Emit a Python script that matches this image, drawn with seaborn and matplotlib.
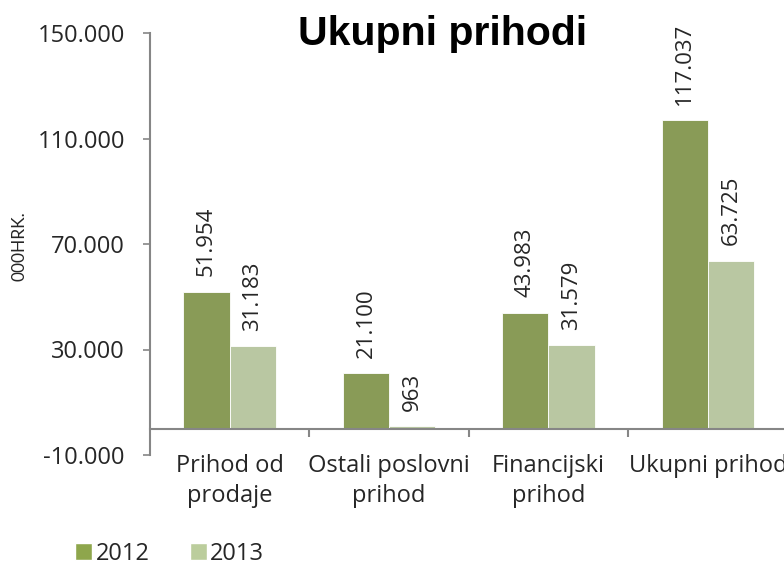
import matplotlib
matplotlib.use('Agg')
import matplotlib.pyplot as plt
import seaborn as sns
import pandas as pd
from matplotlib.patches import Patch
from matplotlib.ticker import FixedLocator

categories = ['Prihod od\nprodaje', 'Ostali poslovni\nprihod', 'Financijski\nprihod', 'Ukupni prihod']
values_2012 = [51954, 21100, 43983, 117037]
values_2013 = [31183, 963, 31579, 63725]
years = ['2012', '2013']
y_ticks = [-10000, 30000, 70000, 110000, 150000]

dark = '#8EA64C'
light = '#BBCD9C'
axis_gray = '#868686'
text_col = '#262626'

df = pd.DataFrame({
    'kategorija': categories * 2,
    'vrijednost': values_2012 + values_2013,
    'godina': [years[0]] * 4 + [years[1]] * 4,
})

sns.set_style('white')
plt.rcParams['font.family'] = ['Open Sans', 'DejaVu Sans']

fig = plt.figure(figsize=(7.84, 5.66), dpi=100)
ax = fig.add_axes([150 / 784, 1 - 455 / 566, 636 / 784, 422 / 566])

sns.barplot(data=df, x='kategorija', y='vrijednost', hue='godina',
            palette=[dark, light], width=0.58, gap=0, ax=ax, legend=False,
            edgecolor='white', linewidth=0.6)

fmt = lambda v: f'{v:,.0f}'.replace(',', '.')
for cont in ax.containers:
    ax.bar_label(cont, labels=[fmt(v) for v in cont.datavalues], rotation=90,
                 padding=11, fontsize=16, color=text_col)

ax.set_ylim(-10000, 150000)
ax.set_xlim(-0.5, 3.49)
ax.set_yticks(y_ticks)
ax.set_yticklabels([fmt(t) for t in y_ticks], fontsize=17, color=text_col)
ax.tick_params(axis='y', direction='out', length=5, width=1.2, color=axis_gray, pad=13, left=True)

ax.spines['top'].set_visible(False)
ax.spines['right'].set_visible(False)
ax.spines['left'].set_color(axis_gray)
ax.spines['left'].set_linewidth(1.5)
ax.spines['bottom'].set_position(('data', 0))
ax.spines['bottom'].set_color(axis_gray)
ax.spines['bottom'].set_linewidth(1.5)

ax.set_xticks(range(len(categories)))
ax.set_xticklabels(categories, fontsize=17, color=text_col, linespacing=1.35)
ax.tick_params(axis='x', which='major', length=0, pad=18)
ax.xaxis.set_minor_locator(FixedLocator([0.5, 1.5, 2.5]))
ax.tick_params(axis='x', which='minor', direction='out', length=6, width=1.5, color=axis_gray, bottom=True)

ax.set_xlabel('')
ax.set_ylabel('000HRK.', fontsize=12.5, color=text_col, family=['Lato', 'DejaVu Sans'])
ax.yaxis.set_label_coords(-0.192, 0.495)

fig.text(443 / 784, 1 - 45 / 566, 'Ukupni prihodi', ha='center', va='baseline',
         fontsize=29.5, fontweight='bold', family=['Liberation Sans', 'DejaVu Sans'], color='#000000')

handles = [Patch(facecolor=dark), Patch(facecolor=light)]
fig.legend(handles, years, loc='lower left', bbox_to_anchor=(75 / 784, 0), ncol=2,
           frameon=False, fontsize=17, handlelength=0.72, handleheight=0.72,
           handletextpad=0.15, columnspacing=1.7, labelcolor=text_col,
           borderpad=0, borderaxespad=0)

fig.savefig('out.png', dpi=100)
